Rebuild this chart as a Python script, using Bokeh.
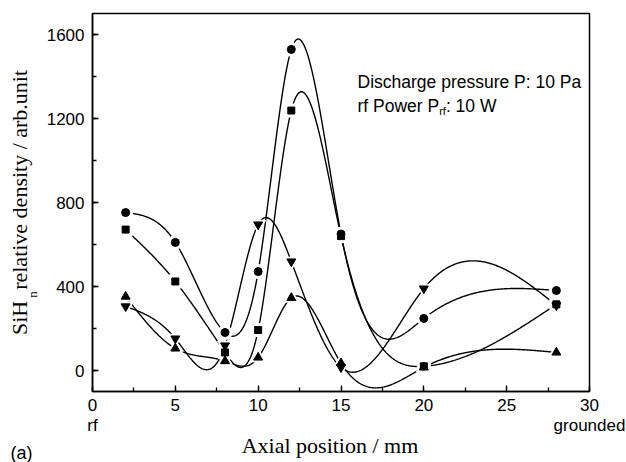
import numpy as np
from bokeh.plotting import figure
from bokeh.models import Label, FixedTicker, Range1d
from bokeh.embed import file_html
from bokeh.resources import INLINE

# ---- data ----
positions = [2, 5, 8, 10, 12, 15, 20, 28]
circle_vals = [752, 610, 181, 471, 1529, 650, 248, 381]
square_vals = [671, 424, 86, 193, 1238, 640, 20, 315]
up_tri_vals = [352, 105, 45, 62, 346, 35, 15, 86]
down_tri_vals = [305, 152, 119, 695, 519, 15, 390, 310]

x_ticks = [0, 5, 10, 15, 20, 25, 30]
x_tick_labels = {0: "0\nrf", 30: "30\ngrounded"}
y_ticks = [0, 400, 800, 1200, 1600]

X0, X1 = 0, 30
Y0, Y1 = -100, 1700

W, H = 626, 462
FL, FR, FT, FB = 92, 589, 13, 391  # frame edges in canvas px


def dx(px):  # canvas px -> data x
    return X0 + (px - FL) / (FR - FL) * (X1 - X0)


def dy(py):  # canvas px -> data y
    return Y1 - (py - FT) / (FB - FT) * (Y1 - Y0)


def natural_spline(xs, ys, n=600):
    x = np.asarray(xs, float)
    y = np.asarray(ys, float)
    m = len(x)
    h = np.diff(x)
    A = np.zeros((m, m))
    b = np.zeros(m)
    A[0, 0] = 1
    A[-1, -1] = 1
    for i in range(1, m - 1):
        A[i, i - 1] = h[i - 1]
        A[i, i] = 2 * (h[i - 1] + h[i])
        A[i, i + 1] = h[i]
        b[i] = 6 * ((y[i + 1] - y[i]) / h[i] - (y[i] - y[i - 1]) / h[i - 1])
    M = np.linalg.solve(A, b)
    xx = np.linspace(x[0], x[-1], n)
    idx = np.clip(np.searchsorted(x, xx) - 1, 0, m - 2)
    x0, x1 = x[idx], x[idx + 1]
    hh = x1 - x0
    t0 = x1 - xx
    t1 = xx - x0
    yy = (M[idx] * t0 ** 3 / (6 * hh) + M[idx + 1] * t1 ** 3 / (6 * hh)
          + (y[idx] / hh - M[idx] * hh / 6) * t0
          + (y[idx + 1] / hh - M[idx + 1] * hh / 6) * t1)
    return xx, yy


p = figure(width=W, height=H, output_backend="svg", toolbar_location=None,
           title=None,
           x_range=Range1d(X0, X1), y_range=Range1d(Y0, Y1),
           min_border_left=FL, min_border_right=W - FR,
           min_border_top=FT, min_border_bottom=H - FB)
p.grid.visible = False
p.outline_line_color = "black"
p.outline_line_width = 1.5
p.background_fill_color = "white"
p.border_fill_color = "white"

series = [
    (circle_vals, "circle", 8),
    (square_vals, "square", 7),
    (up_tri_vals, "triangle", 9),
    (down_tri_vals, "inverted_triangle", 9),
]

for vals, _, _ in series:
    xx, yy = natural_spline(positions, vals)
    p.line(xx, yy, line_color="black", line_width=1.4)

for vals, marker, size in series:
    p.scatter(positions, vals, marker=marker, size=size + 6,
              fill_color="white", line_color="white")
for vals, marker, size in series:
    p.scatter(positions, vals, marker=marker, size=size,
              fill_color="black", line_color="black")

for ax, ticks, minor in ((p.xaxis, x_ticks, list(np.arange(0, 30.1, 2.5))),
                         (p.yaxis, y_ticks, list(range(-0, 1701, 200)))):
    ax.ticker = FixedTicker(ticks=ticks, minor_ticks=minor)
    ax.axis_line_width = 1.5
    ax.axis_line_color = "black"
    ax.major_tick_in = 6
    ax.major_tick_out = 0
    ax.minor_tick_in = 4
    ax.minor_tick_out = 0
    ax.major_tick_line_width = 1.3
    ax.minor_tick_line_width = 1.3
    ax.major_label_text_font = "Liberation Sans"
    ax.major_label_text_font_size = "17px"
    ax.major_label_text_color = "black"
    ax.axis_label_text_font = "Liberation Serif"
    ax.axis_label_text_font_size = "22px"
    ax.axis_label_text_font_style = "normal"
    ax.axis_label_text_color = "black"

p.xaxis.major_label_overrides = x_tick_labels
p.xaxis.major_label_text_line_height = 1.1
p.xaxis.major_label_standoff = 4
p.xaxis.axis_label = "Axial position  / mm\u00a0\u00a0\u00a0"
p.xaxis.axis_label_text_line_height = 1.0
p.xaxis.axis_label_standoff = -5
p.yaxis.major_label_standoff = 8
p.yaxis.axis_label = "SiH\u00a0\u00a0relative density / arb.unit"
p.yaxis.axis_label_standoff = 12


def make_label(px, py, text, size, font="Liberation Sans", align="left",
               angle=0.0):
    return Label(x=dx(px), y=dy(py), text=text, text_font=font,
                 text_font_size=size, text_align=align,
                 text_baseline="alphabetic", text_color="black",
                 angle=angle)


# annotation inside the frame
p.add_layout(make_label(357, 81, "Discharge pressure P: 10 Pa", "17.5px"))
p.add_layout(make_label(357, 105, "rf Power P", "17.5px"))
p.add_layout(make_label(438.7, 110, "rf", "11px"))
p.add_layout(make_label(445.4, 105, ": 10 W", "17.5px"))

# texts outside the frame live in side panels (not clipped)
p.add_layout(make_label(32, 294, "n", "13px", font="Liberation Serif",
                        align="center", angle=np.pi / 2), "above")
p.add_layout(make_label(10, 452, "(a)", "18px"), "right")

open("out.html", "w").write(file_html(p, INLINE))
